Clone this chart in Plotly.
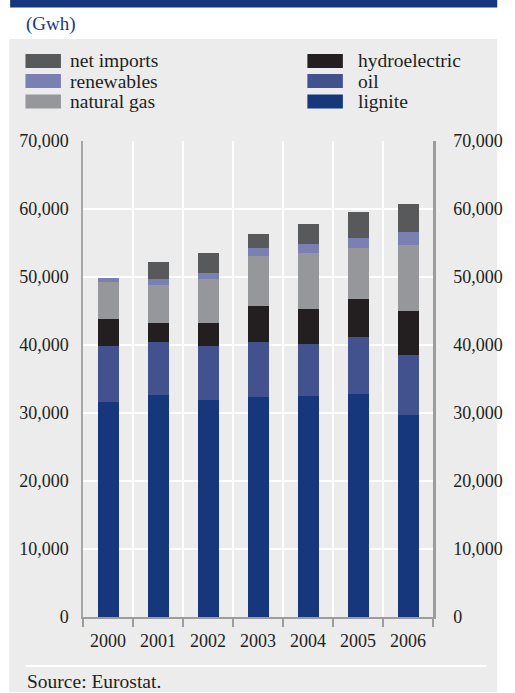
import plotly.graph_objects as go

# Electricity supply by source (GWh)
years = ["2000", "2001", "2002", "2003", "2004", "2005", "2006"]
lignite = [31600, 32600, 31900, 32400, 32500, 32800, 29700]
oil = [8250, 7800, 7950, 8000, 7600, 8400, 8800]
hydroelectric = [3950, 2800, 3350, 5300, 5200, 5600, 6500]
natural_gas = [5500, 5600, 6500, 7400, 8200, 7500, 9700]
renewables = [550, 900, 900, 1200, 1350, 1400, 1900]
net_imports = [0, 2500, 2900, 2000, 2950, 3900, 4100]

y_tickvals = [0, 10000, 20000, 30000, 40000, 50000, 60000, 70000]
y_ticktext = ["0", "10,000", "20,000", "30,000", "40,000", "50,000", "60,000", "70,000"]

# stacking order, bottom to top
series = [
    ("lignite", lignite, "#17377d"),
    ("oil", oil, "#41528f"),
    ("hydroelectric", hydroelectric, "#231f20"),
    ("natural gas", natural_gas, "#96979b"),
    ("renewables", renewables, "#7b80b3"),
    ("net imports", net_imports, "#58595b"),
]

W, H = 515, 693
PL, PR, PT, PB = 83, 448, 141, 617
FONT = "Liberation Serif"
TXT = "#231f20"
PANEL = "#ececec"


def px(x):
    return (x - PL) / (PR - PL)


def py(y):
    return (PB - y) / (PB - PT)


fig = go.Figure()
for name, vals, col in series:
    fig.add_trace(go.Bar(x=years, y=vals, name=name, marker=dict(color=col, line=dict(width=0)),
                         showlegend=False))

# carrier for the right-hand value axis
fig.add_trace(go.Scatter(x=years, y=[None] * len(years), yaxis="y2", showlegend=False,
                         hoverinfo="skip"))

shapes = [
    # header band
    dict(type="rect", xref="paper", yref="paper", x0=px(7), x1=px(W), y0=py(0), y1=py(7.5),
         fillcolor="#17377d", line=dict(width=0), layer="below"),
    # grey panel
    dict(type="rect", xref="paper", yref="paper", x0=px(6), x1=px(W), y0=py(39), y1=py(692),
         fillcolor=PANEL, line=dict(width=0), layer="below"),
    # separator above source note
    dict(type="line", xref="paper", yref="paper", x0=px(23), x1=px(504), y0=py(666), y1=py(666),
         line=dict(color="white", width=2), layer="below"),
]

annotations = [
    dict(text="(Gwh)", xref="paper", yref="paper", x=px(21), y=py(24), xanchor="left",
         yanchor="middle", showarrow=False, font=dict(family=FONT, size=19, color="#1a3a80")),
    dict(text="Source: Eurostat.", xref="paper", yref="paper", x=px(22), y=py(681),
         xanchor="left", yanchor="middle", showarrow=False,
         font=dict(family=FONT, size=19.5, color=TXT)),
]

# two-column legend: left column top to bottom, then right column
legend_order = ["net imports", "renewables", "natural gas", "hydroelectric", "oil", "lignite"]
colors = {name: col for name, _, col in series}
row_y = [61, 81, 101.5]
col_x = [(23, 60, 67), (317, 354, 368)]
for i, name in enumerate(legend_order):
    sx0, sx1, tx = col_x[i // 3]
    cy = row_y[i % 3]
    shapes.append(dict(type="rect", xref="paper", yref="paper", x0=px(sx0), x1=px(sx1),
                       y0=py(cy - 7), y1=py(cy + 7), fillcolor=colors[name],
                       line=dict(width=0)))
    annotations.append(dict(text=name, xref="paper", yref="paper", x=px(tx), y=py(cy),
                            xanchor="left", yanchor="middle", showarrow=False,
                            font=dict(family=FONT, size=19.5, color=TXT)))

yaxis_common = dict(
    range=[0, 70000], tickvals=y_tickvals, ticktext=y_ticktext,
    showgrid=True, gridcolor="white", gridwidth=2, zeroline=False,
    showline=True, ticks="",
    tickfont=dict(family=FONT, size=18, color=TXT),
)

fig.update_layout(
    width=W, height=H,
    margin=dict(l=PL, r=W - PR, t=PT, b=H - PB, pad=0),
    paper_bgcolor="white", plot_bgcolor=PANEL,
    barmode="stack", bargap=0.58,
    font=dict(family=FONT, size=18, color=TXT),
    xaxis=dict(
        type="category", tickson="boundaries", ticks="outside", ticklen=8, tickwidth=1.5,
        tickcolor="#9d9d9d", showgrid=True, gridcolor="white", gridwidth=2,
        showline=True, linecolor="#9d9d9d", linewidth=1.5,
        tickfont=dict(family=FONT, size=18, color=TXT), ticklabelstandoff=7,
    ),
    yaxis=dict(**yaxis_common, linecolor="#a6a6a6", linewidth=1.5, side="left",
               ticklabelstandoff=9),
    yaxis2=dict(**yaxis_common, linecolor="#9d9d9d", linewidth=2.5, side="right",
                overlaying="y", ticklabelstandoff=14),
    shapes=shapes,
    annotations=annotations,
)

fig.write_html("out.html")
